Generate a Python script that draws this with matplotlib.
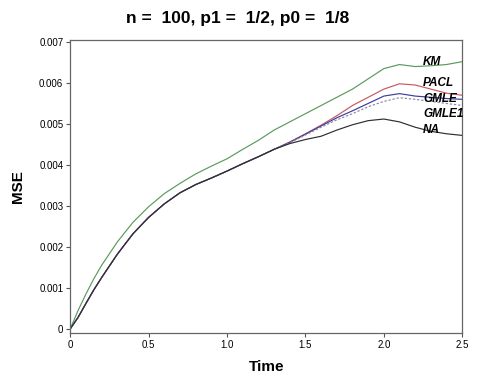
import numpy as np
import matplotlib
matplotlib.use("Agg")
import matplotlib.pyplot as plt

plt.rcParams['font.family'] = ['Liberation Sans', 'DejaVu Sans']

# values, MSE in units of 1e-3
time = [0, 0.05, 0.1, 0.15, 0.2, 0.3, 0.4, 0.5, 0.6, 0.7, 0.8, 0.9, 1.0,
        1.1, 1.2, 1.3, 1.4, 1.5, 1.6, 1.7, 1.8, 1.9, 2.0, 2.1, 2.2, 2.3,
        2.4, 2.5]
km = [0, 0.45, 0.85, 1.22, 1.55, 2.12, 2.60, 2.98, 3.30, 3.55, 3.78, 3.97,
      4.15, 4.38, 4.60, 4.85, 5.05, 5.25, 5.45, 5.65, 5.85, 6.10, 6.35,
      6.45, 6.40, 6.42, 6.45, 6.52]
pacl = [0, 0.28, 0.62, 0.95, 1.25, 1.82, 2.32, 2.72, 3.05, 3.32, 3.52, 3.68,
        3.85, 4.03, 4.20, 4.38, 4.56, 4.76, 4.97, 5.20, 5.45, 5.65, 5.85,
        5.98, 5.95, 5.85, 5.75, 5.70]
gmle = [0, 0.28, 0.62, 0.95, 1.25, 1.82, 2.32, 2.72, 3.05, 3.32, 3.52, 3.68,
        3.85, 4.03, 4.20, 4.38, 4.55, 4.75, 4.95, 5.15, 5.32, 5.50, 5.68,
        5.74, 5.68, 5.65, 5.62, 5.60]
gmle1 = [0, 0.28, 0.62, 0.95, 1.25, 1.82, 2.32, 2.72, 3.05, 3.32, 3.52, 3.68,
         3.85, 4.03, 4.20, 4.38, 4.54, 4.73, 4.92, 5.10, 5.25, 5.42, 5.55,
         5.64, 5.60, 5.55, 5.50, 5.45]
na = [0, 0.28, 0.62, 0.95, 1.25, 1.82, 2.32, 2.72, 3.05, 3.32, 3.52, 3.68,
      3.85, 4.03, 4.20, 4.38, 4.52, 4.62, 4.70, 4.85, 4.98, 5.08, 5.12,
      5.05, 4.92, 4.82, 4.76, 4.72]

series = [
    ('KM', km, '#5b9a5b', '-', 6.52),
    ('PACL', pacl, '#c8585e', '-', 5.99),
    ('GMLE', gmle, '#3c3c9c', '-', 5.60),
    ('GMLE1', gmle1, '#8a8aa8', (0, (2, 1.5)), 5.25),
    ('NA', na, '#2e2e2e', '-', 4.86),
]

fig = plt.figure(figsize=(4.78, 3.84), dpi=100)
ax = fig.add_axes([0.147, 0.133, 0.820, 0.763])

t = np.array(time)
for name, vals, col, ls, ylab in series:
    ax.plot(t, np.array(vals) * 1e-3, color=col, lw=0.85, ls=ls)
    ax.text(2.25, ylab * 1e-3, name, fontsize=8.5, fontweight='bold',
            fontstyle='italic', va='center', ha='left')

ax.set_xlim(0, 2.5)
ax.set_ylim(-0.0001, 0.00705)
ax.set_xticks([0, 0.5, 1.0, 1.5, 2.0, 2.5])
ax.set_xticklabels(['0', '0.5', '1.0', '1.5', '2.0', '2.5'])
yt = [0, 0.001, 0.002, 0.003, 0.004, 0.005, 0.006, 0.007]
ax.set_yticks(yt)
ax.set_yticklabels(['0', '0.001', '0.002', '0.003', '0.004', '0.005',
                    '0.006', '0.007'])
ax.tick_params(labelsize=7, length=3, width=0.8, color='#555555', pad=2)
for sp in ax.spines.values():
    sp.set_color('#666666')
    sp.set_linewidth(0.9)

ax.set_xlabel('Time', fontsize=11, fontweight='bold', labelpad=7)
ax.set_ylabel('MSE', fontsize=11, fontweight='bold', labelpad=10)
fig.suptitle('n =  100, p1 =  1/2, p0 =  1/8', x=0.497, y=0.972,
             fontsize=12.5, fontweight='bold')

fig.savefig('out.png', dpi=100)
